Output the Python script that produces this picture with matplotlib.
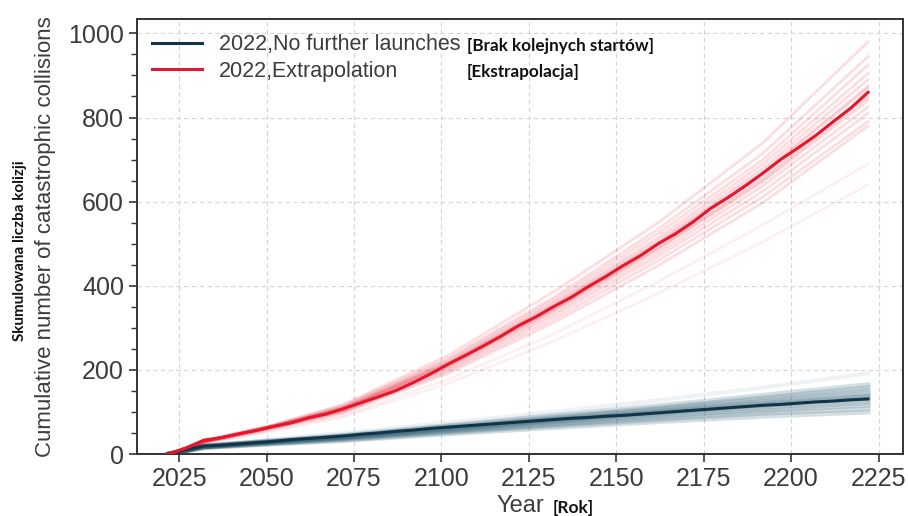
import numpy as np
import matplotlib.pyplot as plt
from matplotlib.ticker import MultipleLocator

# ==========================================
# DATA
# ==========================================

# ensemble mean, every 5 years
years_mean = [2022, 2027, 2032, 2037, 2042, 2047, 2052, 2057, 2062, 2067, 2072,
              2077, 2082, 2087, 2092, 2097, 2102, 2107, 2112, 2117, 2122,
              2127, 2132, 2137, 2142, 2147, 2152, 2157, 2162, 2167, 2172,
              2177, 2182, 2187, 2192, 2197, 2202, 2207, 2212, 2217, 2222]

extrap_mean = [0, 14, 33, 39, 48, 56, 66, 74, 86, 95, 108,
               122, 136, 151, 170, 191, 214, 235, 257, 280, 305,
               326, 350, 372, 398, 422, 448, 472, 500, 524, 552,
               584, 610, 638, 668, 700, 728, 757, 790, 822, 860]

nolaunch_mean = [0, 10, 19, 21, 24, 27, 30, 34, 37, 40, 43,
                 47, 50, 54, 57, 61, 64, 67, 70, 73, 76,
                 79, 82, 85, 87, 90, 92, 95, 98, 101, 104,
                 107, 110, 113, 116, 118, 121, 124, 126, 129, 131]

# individual Monte Carlo runs
years_runs = [2022, 2032, 2052, 2072, 2102, 2132, 2162, 2192, 2222]

extrap_runs = [
    [0, 32, 70, 118, 235, 385, 550, 740, 980],
    [0, 31, 69, 115, 228, 372, 535, 715, 945],
    [0, 30, 68, 113, 224, 366, 525, 700, 925],
    [0, 31, 67, 111, 220, 360, 515, 690, 905],
    [0, 29, 67, 110, 218, 356, 508, 680, 890],
    [0, 30, 66, 109, 216, 352, 503, 672, 875],
    [0, 30, 66, 108, 214, 350, 500, 668, 870],
    [0, 30, 65, 107, 212, 345, 493, 658, 855],
    [0, 29, 65, 106, 210, 342, 489, 652, 848],
    [0, 29, 65, 105, 208, 340, 486, 648, 840],
    [0, 29, 64, 104, 205, 334, 478, 638, 825],
    [0, 28, 63, 102, 201, 328, 470, 625, 810],
    [0, 28, 62, 100, 197, 320, 460, 612, 790],
    [0, 27, 61, 98, 192, 312, 448, 598, 780],
]

# runs that drift well below the bulk
extrap_low_runs = [
    [0, 26, 58, 92, 178, 285, 410, 545, 690],
    [0, 25, 55, 88, 168, 268, 382, 505, 640],
]

nolaunch_runs = [
    [0, 19, 32, 45, 68, 92, 115, 140, 165],
    [0, 19, 31, 43, 66, 88, 110, 134, 158],
    [0, 18, 30, 42, 64, 86, 107, 130, 152],
    [0, 18, 30, 41, 62, 83, 104, 125, 146],
    [0, 18, 29, 40, 61, 81, 101, 121, 140],
    [0, 18, 29, 40, 60, 80, 99, 119, 137],
    [0, 17, 28, 39, 59, 78, 97, 116, 134],
    [0, 17, 28, 38, 57, 76, 94, 112, 128],
    [0, 17, 27, 37, 55, 73, 90, 107, 122],
    [0, 16, 26, 35, 53, 70, 86, 102, 116],
    [0, 16, 25, 34, 51, 67, 82, 97, 108],
    [0, 15, 24, 32, 48, 63, 77, 90, 100],
]

nolaunch_high_runs = [
    [0, 20, 35, 50, 75, 100, 128, 158, 192],
]

RED = "#e5172c"
NAVY = "#123449"
TEAL = "#2f5f73"
TEXT = "#3c3c3c"

# ==========================================
# FIGURE
# ==========================================

plt.rcParams['font.family'] = ['Liberation Sans', 'DejaVu Sans']

fig = plt.figure(figsize=(9.08, 5.16), dpi=100)
ax = fig.add_axes([0.151, 0.120, 0.8435, 0.843])

for run in nolaunch_high_runs:
    ax.plot(years_runs, run, color=TEAL, alpha=0.08, lw=3, zorder=2)
for run in nolaunch_runs:
    ax.plot(years_runs, run, color=TEAL, alpha=0.2, lw=3.5, zorder=2)

for run in extrap_low_runs:
    ax.plot(years_runs, run, color=RED, alpha=0.07, lw=1.8, zorder=2)
for run in extrap_runs:
    ax.plot(years_runs, run, color=RED, alpha=0.14, lw=2.0, zorder=2)

ax.plot(years_mean, nolaunch_mean, color=NAVY, lw=2.2, zorder=4,
        label="2022,No further launches")
ax.plot(years_mean, extrap_mean, color=RED, lw=2.2, zorder=4,
        label="2022,Extrapolation")

# ==========================================
# AXES
# ==========================================

ax.set_xlim(2013, 2232)
ax.set_ylim(0, 1034)

ax.xaxis.set_major_locator(MultipleLocator(25))
ax.yaxis.set_major_locator(MultipleLocator(200))
ax.yaxis.set_minor_locator(MultipleLocator(50))

ax.grid(True, which='major', ls=(0, (4, 3)), color='#d4d4d4', lw=0.8)
ax.set_axisbelow(True)

for side in ax.spines.values():
    side.set_color('#333333')
    side.set_linewidth(1.4)

ax.tick_params(axis='both', which='major', labelsize=18, colors='#333333',
               labelcolor=TEXT, length=6, width=1.2)
ax.tick_params(axis='y', which='minor', length=4, width=1.0, colors='#333333')

ax.set_xlabel("Year", fontsize=17, color=TEXT, labelpad=3)
ax.set_ylabel("Cumulative number of catastrophic collisions",
              fontsize=16, color=TEXT, labelpad=9)

ax.legend(loc='upper left', frameon=False, fontsize=15.5, handlelength=2.3,
          labelcolor=TEXT, borderaxespad=0.3, labelspacing=0.25,
          bbox_to_anchor=(0.0, 1.0))

# Polish captions
note = dict(fontweight='bold', color='#111111', family=['Lato', 'DejaVu Sans'])
fig.text(467 / 908, 1 - 46 / 516, "[Brak kolejnych startów]", va='center',
         fontsize=12.3, **note)
fig.text(467 / 908, 1 - 72 / 516, "[Ekstrapolacja]", va='center',
         fontsize=12.3, **note)
fig.text(553 / 908, 1 - 508 / 516, "[Rok]", va='center', fontsize=12.5, **note)
fig.text(20 / 908, 1 - 251 / 516, "Skumulowana liczba kolizji", rotation=90,
         ha='center', va='center', fontsize=11, **note)

fig.savefig("out.png", dpi=100)
